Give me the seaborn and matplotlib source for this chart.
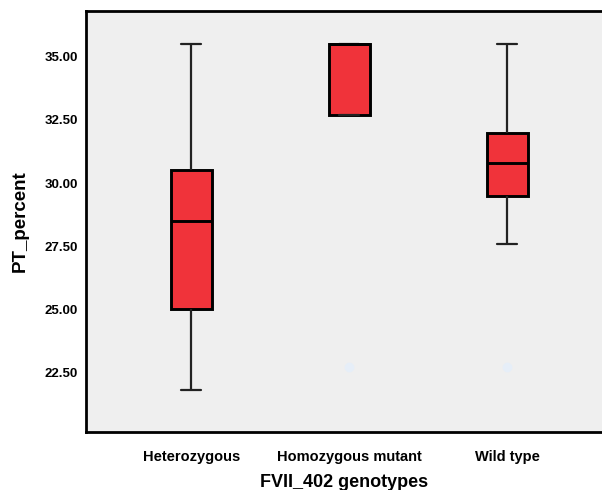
import numpy as np
import pandas as pd
import matplotlib
matplotlib.use("Agg")
import matplotlib.pyplot as plt
import seaborn as sns

# values (whisker ends, quartiles, median, outliers)
genotypes = ["Heterozygous", "Homozygous mutant", "Wild type"]
heterozygous = [21.8, 25.0, 28.5, 30.5, 35.5]
homozygous_mutant = [22.7, 32.7, 32.7, 35.5, 35.5, 35.5, 35.5]
wild_type = [22.7, 27.6, 29.5, 30.0, 30.8, 31.5, 32.0, 33.0, 35.5]
y_ticks = [22.5, 25.0, 27.5, 30.0, 32.5, 35.0]

df = pd.DataFrame({
    "genotype": [genotypes[0]] * len(heterozygous)
    + [genotypes[1]] * len(homozygous_mutant)
    + [genotypes[2]] * len(wild_type),
    "PT_percent": heterozygous + homozygous_mutant + wild_type,
})

sns.set_style("white")
plt.rcParams["font.family"] = ["Liberation Sans", "DejaVu Sans"]
plt.rcParams["text.color"] = "black"
plt.rcParams["axes.labelcolor"] = "black"
plt.rcParams["xtick.color"] = "black"
plt.rcParams["ytick.color"] = "black"

fig = plt.figure(figsize=(6.02, 4.90), dpi=100)
ax = fig.add_axes([0.143, 0.118, 0.857, 0.86])
ax.set_facecolor("#efefef")

sns.boxplot(data=df, x="genotype", y="PT_percent", order=genotypes, ax=ax,
            color="#f0333a", saturation=1, width=0.26, linecolor="black",
            boxprops=dict(linewidth=2.1, edgecolor="black"),
            medianprops=dict(linewidth=2.1, color="black"),
            whiskerprops=dict(linewidth=1.6, color="#222222"),
            capprops=dict(linewidth=1.6, color="#222222"),
            flierprops=dict(marker="o", markersize=6, markerfacecolor="#e6eef8",
                            markeredgecolor="#e6eef8"))

ax.set_xlim(-0.665, 2.6)
ax.set_ylim(20.12, 36.83)
ax.set_yticks(y_ticks)
ax.set_yticklabels([f"{v:.2f}" for v in y_ticks], fontsize=9.5, fontweight="bold")
ax.set_xticks(range(len(genotypes)))
ax.set_xticklabels(genotypes, fontsize=10.5, fontweight="bold")
ax.tick_params(axis="y", direction="out", length=5, width=1.2, color="black", pad=1)
ax.tick_params(axis="x", direction="out", length=7, width=1.2, color="black", pad=6)

for side in ["left", "top", "bottom"]:
    ax.spines[side].set_color("black")
    ax.spines[side].set_linewidth(2)
ax.spines["right"].set_visible(False)

ax.set_xlabel("FVII_402 genotypes", fontsize=13, fontweight="bold", labelpad=7)
ax.set_ylabel("PT_percent", fontsize=13.5, fontweight="bold", labelpad=11)

fig.savefig("out.png", dpi=100, facecolor="white")
